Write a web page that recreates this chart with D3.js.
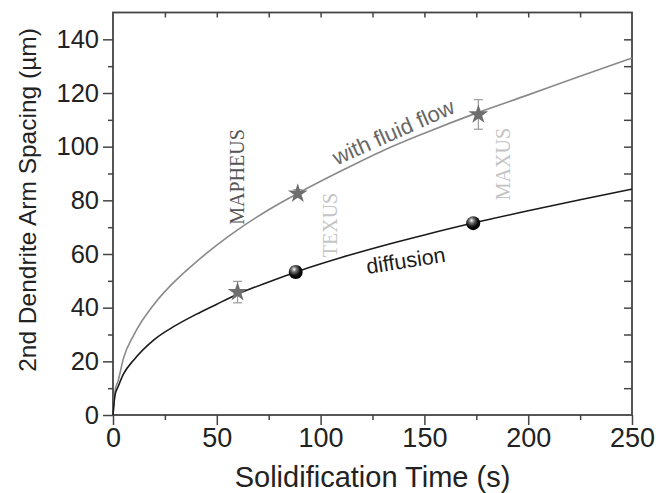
<!DOCTYPE html>
<html>
<head>
<meta charset="utf-8">
<script src="https://cdn.jsdelivr.net/npm/d3@7"></script>
<style>
  body { margin: 0; background: #fff; }
  text { font-family: "Liberation Sans", Arial, sans-serif; }
</style>
</head>
<body>
<div id="chart"></div>
<script>
// values
var timeGrid  = [0, 1, 2.5, 5, 10, 20, 30, 40, 50, 60, 75, 90, 110, 130, 150, 175, 200, 225, 250];
var flowCurve = [0, 9, 12.8, 21, 29.8, 41.5, 50, 57, 63.3, 69, 76.5, 83, 91, 98.5, 105, 112.5, 119.3, 126.2, 133];
var diffCurve = [0, 7.5, 10.6, 15.2, 20.5, 28.2, 33.3, 37.5, 41.3, 45, 49.6, 53.8, 58.7, 63.1, 67.1, 71.8, 76.1, 80.2, 84.2];

var starTime = [60, 89, 176];
var starVal  = [45.8, 82.5, 112];
var starErr  = [4, 1.5, 5.5];

var ballTime = [88, 173.5];
var ballVal  = [53.3, 71.5];
var ballErr  = [2, 1];

var xTicks = [0, 50, 100, 150, 200, 250];
var yTicks = [0, 20, 40, 60, 80, 100, 120, 140];

var missions    = ["MAPHEUS", "TEXUS", "MAXUS"];
var missionTime = [59.7, 104.5, 188];
var missionVal  = [88.7, 70.8, 93.5];

var curveNames = ["with fluid flow", "diffusion"];
var curveTime  = [135, 141];
var curveVal   = [105.5, 57.6];

var width = 672, height = 493;
var margin = {left: 113, right: 40, top: 12.5, bottom: 78};
var plotW = width - margin.left - margin.right;
var plotH = height - margin.top - margin.bottom;

var svg = d3.select("#chart").append("svg")
    .attr("width", width)
    .attr("height", height);

var defs = svg.append("defs");
var grad = defs.append("radialGradient")
    .attr("id", "ball")
    .attr("cx", "40%").attr("cy", "35%").attr("r", "60%")
    .attr("fx", "38%").attr("fy", "30%");
grad.append("stop").attr("offset", "0%").attr("stop-color", "#ffffff");
grad.append("stop").attr("offset", "30%").attr("stop-color", "#777");
grad.append("stop").attr("offset", "70%").attr("stop-color", "#111");
grad.append("stop").attr("offset", "100%").attr("stop-color", "#000");

var g = svg.append("g")
    .attr("transform", "translate(" + margin.left + "," + margin.top + ")");

var x = d3.scaleLinear().domain([0, 250]).range([0, plotW]);
var y = d3.scaleLinear().domain([0, 150]).range([plotH, 0]);

var axisColor = "#444";

function styleAxis(fontSize) {
    return function(sel) {
        sel.select(".domain").remove();
        sel.selectAll("line").attr("stroke", axisColor).attr("stroke-width", 1.5);
        sel.selectAll("text").attr("fill", "#222").style("font-size", fontSize);
    };
}

// minor ticks first, then major
g.append("g").attr("transform", "translate(0," + plotH + ")")
    .call(d3.axisBottom(x).tickValues(d3.range(25, 250, 50)).tickSize(5).tickFormat(""))
    .call(styleAxis("27px"));
g.append("g").attr("transform", "translate(0," + plotH + ")")
    .call(d3.axisBottom(x).tickValues(xTicks).tickSize(10).tickPadding(3))
    .call(styleAxis("27px"));

g.append("g")
    .call(d3.axisLeft(y).tickValues(d3.range(10, 150, 20)).tickSize(5).tickFormat(""))
    .call(styleAxis("25.5px"));
g.append("g")
    .call(d3.axisLeft(y).tickValues(yTicks).tickSize(10).tickPadding(4))
    .call(styleAxis("25.5px"));

// mirrored inward ticks
g.append("g")
    .call(d3.axisBottom(x).tickValues(d3.range(25, 250, 25)).tickSize(5).tickFormat(""))
    .call(styleAxis("25px"));
g.append("g").attr("transform", "translate(" + plotW + ",0)")
    .call(d3.axisLeft(y).tickValues(d3.range(10, 150, 10)).tickSize(8).tickFormat(""))
    .call(styleAxis("25px"));

g.append("rect")
    .attr("width", plotW).attr("height", plotH)
    .attr("fill", "none")
    .attr("stroke", axisColor)
    .attr("stroke-width", 1.8);

// curves
var line = d3.line()
    .x(function(d, i) { return x(timeGrid[i]); })
    .y(function(d) { return y(d); })
    .curve(d3.curveMonotoneX);

g.append("path").datum(flowCurve)
    .attr("d", line).attr("fill", "none")
    .attr("stroke", "#8a8a8a").attr("stroke-width", 1.6);
g.append("path").datum(diffCurve)
    .attr("d", line).attr("fill", "none")
    .attr("stroke", "#1a1a1a").attr("stroke-width", 1.6);

// error bars
function errBars(times, vals, errs, color) {
    var eb = g.append("g").attr("stroke", color).attr("stroke-width", 1.2);
    times.forEach(function(t, i) {
        var cx = x(t), y0 = y(vals[i] - errs[i]), y1 = y(vals[i] + errs[i]);
        eb.append("line").attr("x1", cx).attr("x2", cx).attr("y1", y0).attr("y2", y1);
        eb.append("line").attr("x1", cx - 4.5).attr("x2", cx + 4.5).attr("y1", y0).attr("y2", y0);
        eb.append("line").attr("x1", cx - 4.5).attr("x2", cx + 4.5).attr("y1", y1).attr("y2", y1);
    });
}
errBars(starTime, starVal, starErr, "#9a9a9a");
errBars(ballTime, ballVal, ballErr, "#777");

// stars
g.selectAll(".star").data(starTime).enter().append("path")
    .attr("class", "star")
    .attr("transform", function(d, i) { return "translate(" + x(d) + "," + y(starVal[i]) + ")"; })
    .attr("d", d3.symbol().type(d3.symbolStar).size(120))
    .attr("fill", "#6e6e6e");

// spheres
g.selectAll(".ball").data(ballTime).enter().append("circle")
    .attr("class", "ball")
    .attr("cx", function(d) { return x(d); })
    .attr("cy", function(d, i) { return y(ballVal[i]); })
    .attr("r", 7)
    .attr("fill", "url(#ball)");

// mission labels
var missionColor = ["#555", "#c4c4c4", "#c4c4c4"];
g.selectAll(".mission").data(missions).enter().append("text")
    .attr("class", "mission")
    .attr("transform", function(d, i) {
        return "translate(" + x(missionTime[i]) + "," + y(missionVal[i]) + ") rotate(-90)";
    })
    .attr("text-anchor", "middle")
    .attr("dy", "0.35em")
    .style("font-family", "'Liberation Serif', 'Times New Roman', serif")
    .style("font-size", "20px")
    .attr("fill", function(d, i) { return missionColor[i]; })
    .text(function(d) { return d; });

// curve labels
var curveAngle = [-24, -9];
var curveColor = ["#666", "#1a1a1a"];
var curveFont  = ["22px", "21.5px"];
g.selectAll(".clabel").data(curveNames).enter().append("text")
    .attr("class", "clabel")
    .attr("transform", function(d, i) {
        return "translate(" + x(curveTime[i]) + "," + y(curveVal[i]) + ") rotate(" + curveAngle[i] + ")";
    })
    .attr("text-anchor", "middle")
    .attr("dy", "0.35em")
    .style("font-size", function(d, i) { return curveFont[i]; })
    .attr("fill", function(d, i) { return curveColor[i]; })
    .text(function(d) { return d; });

// axis titles
svg.append("text")
    .attr("transform", "translate(" + 27 + "," + 200 + ") rotate(-90)")
    .attr("text-anchor", "middle")
    .attr("dy", "0.35em")
    .style("font-size", "24.5px")
    .attr("fill", "#222")
    .text("2nd Dendrite Arm Spacing (\u00b5m)");

svg.append("text")
    .attr("x", margin.left + plotW / 2)
    .attr("y", 487)
    .attr("text-anchor", "middle")
    .style("font-size", "29px")
    .attr("fill", "#222")
    .text("Solidification Time (s)");
</script>
</body>
</html>
